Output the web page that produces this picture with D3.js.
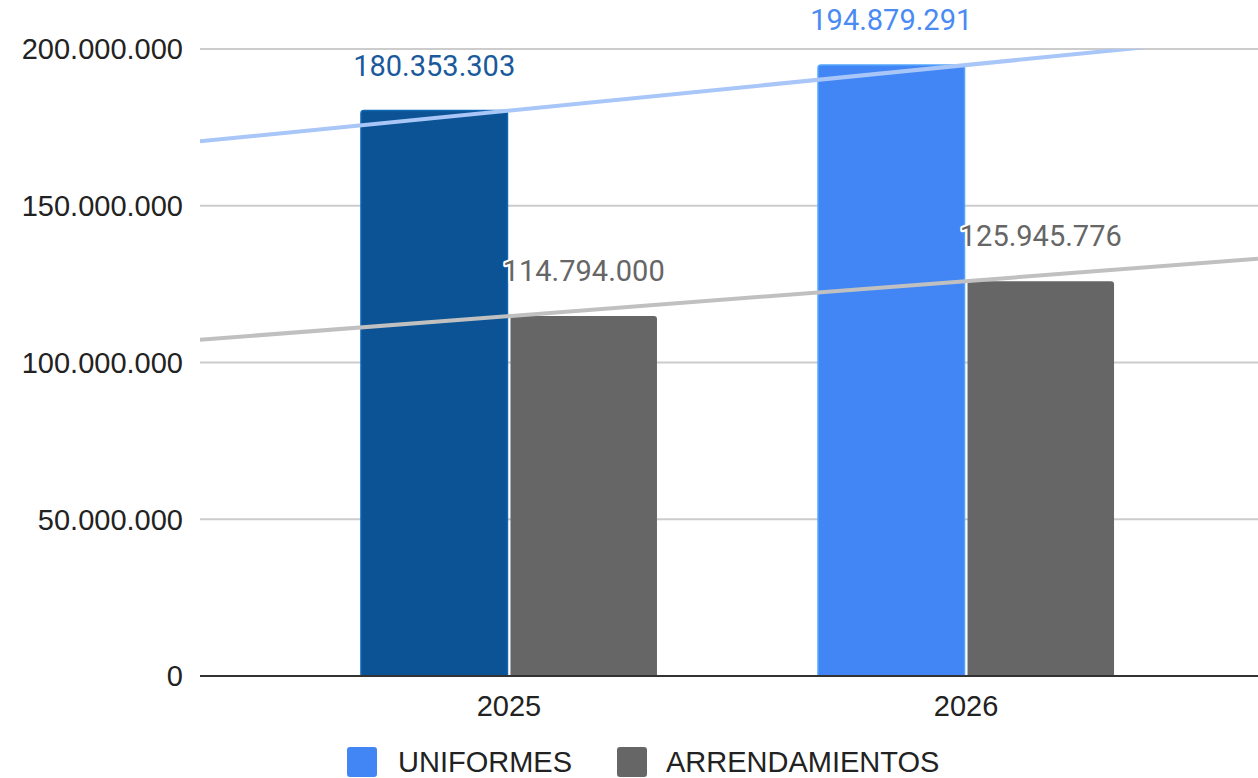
<!DOCTYPE html>
<html>
<head>
<meta charset="utf-8">
<script src="https://cdn.jsdelivr.net/npm/d3@7"></script>
<style>
  body { margin: 0; background: #fff; }
  svg { display: block; }
</style>
</head>
<body>
<div id="chart"></div>
<script>
// data
const years = ["2025", "2026"];
const seriesNames = ["UNIFORMES", "ARRENDAMIENTOS"];
const uniformes = [180353303, 194879291];
const arrendamientos = [114794000, 125945776];
const yTicks = [0, 50000000, 100000000, 150000000, 200000000];

const seriesColors = ["#4285f4", "#666666"];
const barColors = [["#0b5394", "#4285f4"], ["#666666", "#666666"]];
const trendColors = ["#a8c6f7", "#c0c0c0"];
const labelColors = [["#1a5a9c", "#4a8af4"], ["#666666", "#666666"]];

const width = 1258, height = 778;
const plotLeft = 200, plotRight = 1275, plotTop = 49, plotBottom = 676;

const svg = d3.select("#chart").append("svg")
  .attr("width", width)
  .attr("height", height);

const fmt = v => d3.format(",")(v).replace(/,/g, ".");

const y = d3.scaleLinear().domain([0, 200000000]).range([plotBottom, plotTop]);
const x0 = d3.scaleBand().domain(years).range([plotLeft, plotRight]).paddingInner(0).paddingOuter(0.176);
const x1 = d3.scaleBand().domain(seriesNames).range([-148, 148]).paddingInner(0.02);

const allValues = [uniformes, arrendamientos];

// gridlines
svg.append("g").selectAll("line")
  .data(yTicks.filter(d => d > 0))
  .enter().append("line")
  .attr("x1", plotLeft).attr("x2", width)
  .attr("y1", d => y(d)).attr("y2", d => y(d))
  .attr("stroke", "#cccccc")
  .attr("stroke-width", 2);

// y axis labels
svg.append("g").selectAll("text")
  .data(yTicks)
  .enter().append("text")
  .attr("x", 183)
  .attr("y", d => y(d))
  .attr("dy", "0.36em")
  .attr("text-anchor", "end")
  .attr("font-family", "Liberation Sans, Arial, sans-serif")
  .attr("font-size", 29)
  .attr("fill", "#222")
  .text(d => d === 0 ? "0" : fmt(d));

// bars, rounded top corners
function barPath(x, yTop, w, h, r) {
  return `M${x},${yTop + h}V${yTop + r}Q${x},${yTop} ${x + r},${yTop}H${x + w - r}Q${x + w},${yTop} ${x + w},${yTop + r}V${yTop + h}Z`;
}

const bars = [];
seriesNames.forEach((s, si) => {
  years.forEach((yr, i) => {
    bars.push({ s, si, i, yr, v: allValues[si][i] });
  });
});

svg.append("g").selectAll("path")
  .data(bars)
  .enter().append("path")
  .attr("d", d => {
    const bx = x0(d.yr) + x0.bandwidth() / 2 + x1(d.s);
    return barPath(bx, y(d.v), x1.bandwidth(), plotBottom - y(d.v), 3);
  })
  .attr("fill", d => barColors[d.si][d.i])
  .attr("stroke", d => d.si === 0 ? d3.color(barColors[d.si][d.i]).brighter(0.6) : "none")
  .attr("stroke-width", 1.5);

// baseline
svg.append("line")
  .attr("x1", plotLeft).attr("x2", width)
  .attr("y1", plotBottom).attr("y2", plotBottom)
  .attr("stroke", "#333")
  .attr("stroke-width", 2);

// trendlines (linear through the two points), clipped to plot area
svg.append("clipPath").attr("id", "plotclip")
  .append("rect").attr("x", plotLeft).attr("y", plotTop)
  .attr("width", width - plotLeft).attr("height", plotBottom - plotTop);

const cx = years.map(yr => x0(yr) + x0.bandwidth() / 2);
allValues.forEach((vals, si) => {
  const slope = (vals[1] - vals[0]) / (cx[1] - cx[0]);
  const valAt = px => vals[0] + slope * (px - cx[0]);
  svg.append("line")
    .attr("clip-path", "url(#plotclip)")
    .attr("x1", plotLeft).attr("y1", y(valAt(plotLeft)))
    .attr("x2", width).attr("y2", y(valAt(width)))
    .attr("stroke", trendColors[si])
    .attr("stroke-width", 4);
});

// data labels
svg.append("g").selectAll("text")
  .data(bars)
  .enter().append("text")
  .attr("x", d => x0(d.yr) + x0.bandwidth() / 2 + x1(d.s) + x1.bandwidth() / 2)
  .attr("y", d => y(d.v) - 35)
  .attr("text-anchor", "middle")
  .attr("font-family", "Roboto, sans-serif")
  .attr("font-size", 29)
  .attr("fill", d => labelColors[d.si][d.i])
  .attr("stroke", "#fff")
  .attr("stroke-width", 4)
  .attr("stroke-linejoin", "round")
  .attr("paint-order", "stroke")
  .text(d => fmt(d.v));

// x axis labels
svg.append("g").selectAll("text")
  .data(years)
  .enter().append("text")
  .attr("x", d => x0(d) + x0.bandwidth() / 2)
  .attr("y", 716)
  .attr("text-anchor", "middle")
  .attr("font-family", "Liberation Sans, Arial, sans-serif")
  .attr("font-size", 29)
  .attr("fill", "#222")
  .text(d => d);

// legend
const legendX = [347, 617];
const legend = svg.append("g").selectAll("g")
  .data(seriesNames)
  .enter().append("g")
  .attr("transform", (d, i) => `translate(${legendX[i]},747)`);
legend.append("rect")
  .attr("width", 30).attr("height", 30).attr("rx", 3)
  .attr("fill", (d, i) => seriesColors[i]);
legend.append("text")
  .attr("x", (d, i) => i === 0 ? 51 : 49)
  .attr("y", 25)
  .attr("font-family", "Liberation Sans, Arial, sans-serif")
  .attr("font-size", 29)
  .attr("fill", "#222")
  .text(d => d);
</script>
</body>
</html>
